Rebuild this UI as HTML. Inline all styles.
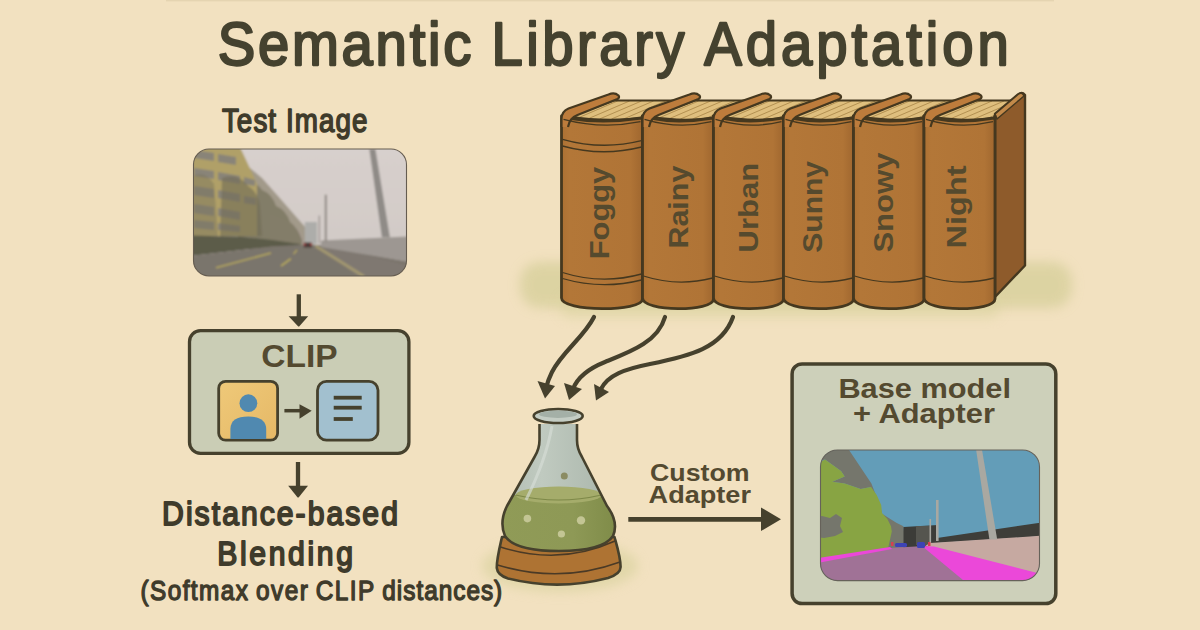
<!DOCTYPE html>
<html><head><meta charset="utf-8">
<style>
html,body{margin:0;padding:0;}
body{width:1200px;height:630px;overflow:hidden;background:#f2e1c0;font-family:"Liberation Sans",sans-serif;}
svg{display:block;}
.bt{font-family:"Liberation Sans",sans-serif;font-weight:bold;fill:#554a2e;}
.t{font-family:"Liberation Sans",sans-serif;font-weight:bold;fill:#413c2a;}
</style></head>
<body>
<svg width="1200" height="630" viewBox="0 0 1200 630">
<defs>
  <filter id="blur8" x="-50%" y="-50%" width="200%" height="200%"><feGaussianBlur stdDeviation="6"/></filter>
  <filter id="blur1" x="-5%" y="-5%" width="110%" height="110%"><feGaussianBlur stdDeviation="0.9"/></filter>
  <linearGradient id="sky" x1="0" y1="0" x2="0" y2="1"><stop offset="0" stop-color="#d8d0cd"/><stop offset="0.7" stop-color="#d2cbc7"/><stop offset="1" stop-color="#c3bcb7"/></linearGradient>
  <linearGradient id="yel" x1="0" y1="0" x2="1" y2="1"><stop offset="0" stop-color="#efc979"/><stop offset="1" stop-color="#e5b866"/></linearGradient>
  <clipPath id="photoclip"><rect x="193.5" y="149" width="213" height="127" rx="15.5"/></clipPath>
  <clipPath id="segclip"><rect x="820.5" y="450" width="219" height="130.6" rx="17"/></clipPath>
  <linearGradient id="spine" x1="0" y1="0" x2="1" y2="0"><stop offset="0" stop-color="#ad7133"/><stop offset="0.1" stop-color="#b37738"/><stop offset="0.85" stop-color="#b07436"/><stop offset="1" stop-color="#a0672f"/></linearGradient>
</defs>
<rect x="0" y="0" width="1200" height="630" fill="#f2e1c0"/>
<rect x="166" y="0" width="888" height="1.4" fill="#e5d4b1"/>

<!-- shadow under books -->
<rect x="520" y="262" width="552" height="46" rx="20" fill="#d4ce96" opacity="0.7" filter="url(#blur8)"/>
<rect x="560" y="296" width="440" height="22" rx="10" fill="#d8d29c" opacity="0.5" filter="url(#blur8)"/>

<!--BOOKS-->
<clipPath id="pg0"><path d="M570.5,116.5 L613.5,100.5 L688.5,100.5 L644.5,118 Q602.0,122 570.5,116.5 Z"/></clipPath>
<path d="M570.5,116.5 L613.5,100.5 L688.5,100.5 L644.5,118 Q602.0,122 570.5,116.5 Z" fill="#dfbf7e"/>
<g clip-path="url(#pg0)" stroke="#ad8a4c" stroke-width="0.9">
<line x1="575.5" y1="119" x2="617.5" y2="101"/>
<line x1="587.5" y1="119" x2="629.5" y2="101"/>
<line x1="599.5" y1="119" x2="641.5" y2="101"/>
<line x1="611.5" y1="119" x2="653.5" y2="101"/>
<line x1="623.5" y1="119" x2="665.5" y2="101"/>
<line x1="635.5" y1="119" x2="677.5" y2="101"/>
</g>
<path d="M570.5,116.5 L613.5,100.5 L688.5,100.5 L644.5,118 Q602.0,122 570.5,116.5 Z" fill="none" stroke="#45381f" stroke-width="2"/>
<clipPath id="pg1"><path d="M651.5,116.5 L694.5,100.5 L759.5,100.5 L715.5,118 Q678.0,122 651.5,116.5 Z"/></clipPath>
<path d="M651.5,116.5 L694.5,100.5 L759.5,100.5 L715.5,118 Q678.0,122 651.5,116.5 Z" fill="#dfbf7e"/>
<g clip-path="url(#pg1)" stroke="#ad8a4c" stroke-width="0.9">
<line x1="656.5" y1="119" x2="698.5" y2="101"/>
<line x1="668.5" y1="119" x2="710.5" y2="101"/>
<line x1="680.5" y1="119" x2="722.5" y2="101"/>
<line x1="692.5" y1="119" x2="734.5" y2="101"/>
<line x1="704.5" y1="119" x2="746.5" y2="101"/>
<line x1="716.5" y1="119" x2="758.5" y2="101"/>
</g>
<path d="M651.5,116.5 L694.5,100.5 L759.5,100.5 L715.5,118 Q678.0,122 651.5,116.5 Z" fill="none" stroke="#45381f" stroke-width="2"/>
<clipPath id="pg2"><path d="M722.5,116.5 L765.5,100.5 L829.5,100.5 L785.5,118 Q748.5,122 722.5,116.5 Z"/></clipPath>
<path d="M722.5,116.5 L765.5,100.5 L829.5,100.5 L785.5,118 Q748.5,122 722.5,116.5 Z" fill="#dfbf7e"/>
<g clip-path="url(#pg2)" stroke="#ad8a4c" stroke-width="0.9">
<line x1="727.5" y1="119" x2="769.5" y2="101"/>
<line x1="739.5" y1="119" x2="781.5" y2="101"/>
<line x1="751.5" y1="119" x2="793.5" y2="101"/>
<line x1="763.5" y1="119" x2="805.5" y2="101"/>
<line x1="775.5" y1="119" x2="817.5" y2="101"/>
<line x1="787.5" y1="119" x2="829.5" y2="101"/>
</g>
<path d="M722.5,116.5 L765.5,100.5 L829.5,100.5 L785.5,118 Q748.5,122 722.5,116.5 Z" fill="none" stroke="#45381f" stroke-width="2"/>
<clipPath id="pg3"><path d="M792.5,116.5 L835.5,100.5 L899.5,100.5 L855.5,118 Q818.5,122 792.5,116.5 Z"/></clipPath>
<path d="M792.5,116.5 L835.5,100.5 L899.5,100.5 L855.5,118 Q818.5,122 792.5,116.5 Z" fill="#dfbf7e"/>
<g clip-path="url(#pg3)" stroke="#ad8a4c" stroke-width="0.9">
<line x1="797.5" y1="119" x2="839.5" y2="101"/>
<line x1="809.5" y1="119" x2="851.5" y2="101"/>
<line x1="821.5" y1="119" x2="863.5" y2="101"/>
<line x1="833.5" y1="119" x2="875.5" y2="101"/>
<line x1="845.5" y1="119" x2="887.5" y2="101"/>
<line x1="857.5" y1="119" x2="899.5" y2="101"/>
</g>
<path d="M792.5,116.5 L835.5,100.5 L899.5,100.5 L855.5,118 Q818.5,122 792.5,116.5 Z" fill="none" stroke="#45381f" stroke-width="2"/>
<clipPath id="pg4"><path d="M862.5,116.5 L905.5,100.5 L970.0,100.5 L926.0,118 Q888.75,122 862.5,116.5 Z"/></clipPath>
<path d="M862.5,116.5 L905.5,100.5 L970.0,100.5 L926.0,118 Q888.75,122 862.5,116.5 Z" fill="#dfbf7e"/>
<g clip-path="url(#pg4)" stroke="#ad8a4c" stroke-width="0.9">
<line x1="867.5" y1="119" x2="909.5" y2="101"/>
<line x1="879.5" y1="119" x2="921.5" y2="101"/>
<line x1="891.5" y1="119" x2="933.5" y2="101"/>
<line x1="903.5" y1="119" x2="945.5" y2="101"/>
<line x1="915.5" y1="119" x2="957.5" y2="101"/>
<line x1="927.5" y1="119" x2="969.5" y2="101"/>
</g>
<path d="M862.5,116.5 L905.5,100.5 L970.0,100.5 L926.0,118 Q888.75,122 862.5,116.5 Z" fill="none" stroke="#45381f" stroke-width="2"/>
<clipPath id="pg5"><path d="M933.0,116.5 L976.0,100.5 L1017.0,100.5 L997.0,118 Q959.5,122 933.0,116.5 Z"/></clipPath>
<path d="M933.0,116.5 L976.0,100.5 L1017.0,100.5 L997.0,118 Q959.5,122 933.0,116.5 Z" fill="#dfbf7e"/>
<g clip-path="url(#pg5)" stroke="#ad8a4c" stroke-width="0.9">
<line x1="938.0" y1="119" x2="980.0" y2="101"/>
<line x1="950.0" y1="119" x2="992.0" y2="101"/>
<line x1="962.0" y1="119" x2="1004.0" y2="101"/>
<line x1="974.0" y1="119" x2="1016.0" y2="101"/>
<line x1="986.0" y1="119" x2="1028.0" y2="101"/>
<line x1="998.0" y1="119" x2="1040.0" y2="101"/>
</g>
<path d="M933.0,116.5 L976.0,100.5 L1017.0,100.5 L997.0,118 Q959.5,122 933.0,116.5 Z" fill="none" stroke="#45381f" stroke-width="2"/>
<path d="M995,114 L1018,94.5 Q1022,91.5 1025,95 L1025,265.5 L995,297 Z" fill="#8e5b2b" stroke="#45381f" stroke-width="2.4" stroke-linejoin="round"/>
<path d="M995,114 L1018,94.5 Q1022,91.5 1024,96 L997,119 Z" fill="#c38a4a" stroke="#45381f" stroke-width="1.5" stroke-linejoin="round"/>
<path d="M561.5,116 L567.5,118 Q602.0,124 641.5,118 L642.5,116 L642.5,299 C642.5,312 561.5,312 561.5,298 Z" fill="url(#spine)" stroke="#45381f" stroke-width="2.8" stroke-linejoin="round"/>
<path d="M561.5,127 L561.5,119 Q561.5,111.5 568.5,108.5 L608.5,94.5 Q614.5,91.8 618.5,95.5 Q620.0,97.5 617.5,99 L577.5,115 Q569.5,118 568.0,127 Z" fill="#bd7c3c"/>
<path d="M561.5,127 L561.5,119 Q561.5,111.5 568.5,108.5 L608.5,94.5 Q614.5,91.8 618.5,95.5 Q620.0,97.5 617.5,99 L577.5,115 Q569.5,118 568.0,127" fill="none" stroke="#45381f" stroke-width="2.2" stroke-linejoin="round"/>
<path d="M563.5,119.3 Q602.0,129.5 640.5,121.7" fill="none" stroke="#45381f" stroke-width="1.3"/>
<path d="M562.5,278.5 Q602.0,290 641.5,280" fill="none" stroke="#45381f" stroke-width="1.3"/>
<path d="M562.5,139.3 Q602.0,150.5 641.5,140.7" fill="none" stroke="#45381f" stroke-width="1.3"/>
<path d="M562.5,146 Q602.0,157 641.5,147" fill="none" stroke="#45381f" stroke-width="1.3"/>
<path d="M562.5,272.5 Q602.0,285 641.5,274" fill="none" stroke="#45381f" stroke-width="1.3"/>
<text class="bt" transform="translate(608.5999999999999,259.30000000000007) rotate(-90)" font-size="28.5" textLength="92.60" lengthAdjust="spacingAndGlyphs">Foggy</text>
<path d="M642.5,116 L648.5,118 Q678.0,124 712.5,118 L713.5,116 L713.5,299 C713.5,312 642.5,312 642.5,298 Z" fill="url(#spine)" stroke="#45381f" stroke-width="2.8" stroke-linejoin="round"/>
<path d="M642.5,127 L642.5,119 Q642.5,111.5 649.5,108.5 L689.5,94.5 Q695.5,91.8 699.5,95.5 Q701.0,97.5 698.5,99 L658.5,115 Q650.5,118 649.0,127 Z" fill="#bd7c3c"/>
<path d="M642.5,127 L642.5,119 Q642.5,111.5 649.5,108.5 L689.5,94.5 Q695.5,91.8 699.5,95.5 Q701.0,97.5 698.5,99 L658.5,115 Q650.5,118 649.0,127" fill="none" stroke="#45381f" stroke-width="2.2" stroke-linejoin="round"/>
<path d="M644.5,119.3 Q678.0,129.5 711.5,121.7" fill="none" stroke="#45381f" stroke-width="1.3"/>
<path d="M643.5,276 Q678.0,287 712.5,278" fill="none" stroke="#45381f" stroke-width="1.3"/>
<text class="bt" transform="translate(687.8499999999999,248.59999999999997) rotate(-90)" font-size="28.5" textLength="83.00" lengthAdjust="spacingAndGlyphs">Rainy</text>
<path d="M713.5,116 L719.5,118 Q748.5,124 782.5,118 L783.5,116 L783.5,299 C783.5,312 713.5,312 713.5,298 Z" fill="url(#spine)" stroke="#45381f" stroke-width="2.8" stroke-linejoin="round"/>
<path d="M713.5,127 L713.5,119 Q713.5,111.5 720.5,108.5 L760.5,94.5 Q766.5,91.8 770.5,95.5 Q772.0,97.5 769.5,99 L729.5,115 Q721.5,118 720.0,127 Z" fill="#bd7c3c"/>
<path d="M713.5,127 L713.5,119 Q713.5,111.5 720.5,108.5 L760.5,94.5 Q766.5,91.8 770.5,95.5 Q772.0,97.5 769.5,99 L729.5,115 Q721.5,118 720.0,127" fill="none" stroke="#45381f" stroke-width="2.2" stroke-linejoin="round"/>
<path d="M715.5,119.3 Q748.5,129.5 781.5,121.7" fill="none" stroke="#45381f" stroke-width="1.3"/>
<path d="M714.5,276 Q748.5,287 782.5,278" fill="none" stroke="#45381f" stroke-width="1.3"/>
<text class="bt" transform="translate(758.2999999999997,252.40000000000003) rotate(-90)" font-size="28.5" textLength="89.70" lengthAdjust="spacingAndGlyphs">Urban</text>
<path d="M783.5,116 L789.5,118 Q818.5,124 852.5,118 L853.5,116 L853.5,299 C853.5,312 783.5,312 783.5,298 Z" fill="url(#spine)" stroke="#45381f" stroke-width="2.8" stroke-linejoin="round"/>
<path d="M783.5,127 L783.5,119 Q783.5,111.5 790.5,108.5 L830.5,94.5 Q836.5,91.8 840.5,95.5 Q842.0,97.5 839.5,99 L799.5,115 Q791.5,118 790.0,127 Z" fill="#bd7c3c"/>
<path d="M783.5,127 L783.5,119 Q783.5,111.5 790.5,108.5 L830.5,94.5 Q836.5,91.8 840.5,95.5 Q842.0,97.5 839.5,99 L799.5,115 Q791.5,118 790.0,127" fill="none" stroke="#45381f" stroke-width="2.2" stroke-linejoin="round"/>
<path d="M785.5,119.3 Q818.5,129.5 851.5,121.7" fill="none" stroke="#45381f" stroke-width="1.3"/>
<path d="M784.5,276 Q818.5,287 852.5,278" fill="none" stroke="#45381f" stroke-width="1.3"/>
<text class="bt" transform="translate(821.9500000000002,252.80000000000007) rotate(-90)" font-size="28.5" textLength="91.90" lengthAdjust="spacingAndGlyphs">Sunny</text>
<path d="M853.5,116 L859.5,118 Q888.75,124 923.0,118 L924.0,116 L924.0,299 C924.0,312 853.5,312 853.5,298 Z" fill="url(#spine)" stroke="#45381f" stroke-width="2.8" stroke-linejoin="round"/>
<path d="M853.5,127 L853.5,119 Q853.5,111.5 860.5,108.5 L900.5,94.5 Q906.5,91.8 910.5,95.5 Q912.0,97.5 909.5,99 L869.5,115 Q861.5,118 860.0,127 Z" fill="#bd7c3c"/>
<path d="M853.5,127 L853.5,119 Q853.5,111.5 860.5,108.5 L900.5,94.5 Q906.5,91.8 910.5,95.5 Q912.0,97.5 909.5,99 L869.5,115 Q861.5,118 860.0,127" fill="none" stroke="#45381f" stroke-width="2.2" stroke-linejoin="round"/>
<path d="M855.5,119.3 Q888.75,129.5 922.0,121.7" fill="none" stroke="#45381f" stroke-width="1.3"/>
<path d="M854.5,276 Q888.75,287 923.0,278" fill="none" stroke="#45381f" stroke-width="1.3"/>
<text class="bt" transform="translate(892.9499999999996,252.59999999999997) rotate(-90)" font-size="28.5" textLength="100.10" lengthAdjust="spacingAndGlyphs">Snowy</text>
<path d="M924.0,116 L930.0,118 Q959.5,124 994.0,118 L995.0,116 L995.0,299 C995.0,312 924.0,312 924.0,298 Z" fill="url(#spine)" stroke="#45381f" stroke-width="2.8" stroke-linejoin="round"/>
<path d="M924.0,127 L924.0,119 Q924.0,111.5 931.0,108.5 L971.0,94.5 Q977.0,91.8 981.0,95.5 Q982.5,97.5 980.0,99 L940.0,115 Q932.0,118 930.5,127 Z" fill="#bd7c3c"/>
<path d="M924.0,127 L924.0,119 Q924.0,111.5 931.0,108.5 L971.0,94.5 Q977.0,91.8 981.0,95.5 Q982.5,97.5 980.0,99 L940.0,115 Q932.0,118 930.5,127" fill="none" stroke="#45381f" stroke-width="2.2" stroke-linejoin="round"/>
<path d="M926.0,119.3 Q959.5,129.5 993.0,121.7" fill="none" stroke="#45381f" stroke-width="1.3"/>
<path d="M925.0,276 Q959.5,287 994.0,278" fill="none" stroke="#45381f" stroke-width="1.3"/>
<text class="bt" transform="translate(966.3499999999999,248.40000000000003) rotate(-90)" font-size="28.5" textLength="83.00" lengthAdjust="spacingAndGlyphs">Night</text>
<!--/BOOKS-->


<!-- Test Image -->

<!-- PHOTO -->
<g clip-path="url(#photoclip)">
  <g filter="url(#blur1)">
  <rect x="190" y="145" width="220" height="135" fill="url(#sky)"/>
  <!-- far buildings (hazy) -->
  <polygon points="250,168 262,178 278,196 292,212 306,228 314,240 314,247 250,249" fill="#a29a8a"/>
  <polygon points="270,214 290,222 300,232 306,246 270,248" fill="#a99b93" opacity="0.8"/>
  <polygon points="304.8,222 317,222 317,244 304.8,244" fill="#adadaa"/>
  <!-- trees on far side -->
  <path d="M238,182 Q252,176 262,190 Q272,194 276,206 Q286,210 290,222 Q298,228 302,240 L302,247 L238,249 Z" fill="#7d7861" opacity="0.85"/>
  <!-- yellow building -->
  <polygon points="190,145 239,145 254,177 257,184 257,236 190,236" fill="#b0a068"/>
  <g fill="#85827a" opacity="0.9">
    <polygon points="194,150 214,153 214,161 194,158"/><polygon points="218,154 236,157 236,165 218,162"/>
    <polygon points="194,168 214,171 214,179 194,176"/><polygon points="218,172 240,176 240,184 218,180"/><polygon points="244,177 255,180 255,186 244,184"/>
    <polygon points="194,186 214,189 214,198 194,195"/><polygon points="218,190 240,194 240,202 218,198"/><polygon points="244,196 256,198 256,205 244,203"/>
    <polygon points="194,204 214,207 214,216 194,213"/><polygon points="218,208 240,212 240,220 218,216"/>
    <polygon points="194,220 214,222 214,230 194,228"/><polygon points="218,223 240,226 240,232 218,230"/>
  </g>
  <!-- trees in front of building -->
  <path d="M222,178 Q238,172 248,186 Q258,192 260,206 L262,236 L220,238 Z" fill="#6f6a55" opacity="0.6"/>
  <path d="M193,176 Q205,170 214,184 L218,236 L193,236 Z" fill="#77715a" opacity="0.45"/>
  <!-- hedge -->
  <polygon points="190,235.5 240,236.7 272,240 300,244 298,247 272,246.5 190,256" fill="#5b5b49"/>
  <!-- road -->
  <polygon points="190,256 272,246.5 298,245 318,245 410,262 410,280 190,280" fill="#7a746c"/>
  <polygon points="318,245 330,246 410,266 410,280 362,280" fill="#7f7871"/>
  <!-- right wall -->
  <polygon points="321,240.5 407,236.5 410,236.5 410,262 321,247" fill="#9d9792"/>
  <!-- far poles -->
  <rect x="324.8" y="194.7" width="2" height="47" fill="#8e8882"/>
  <rect x="318.7" y="215.6" width="1.3" height="28" fill="#958f8a"/>
  <!-- big pole -->
  <polygon points="369.3,149 375.4,149 389.9,237.3 381.9,237.3" fill="#8f8b87"/>
  <!-- car -->
  <rect x="303.7" y="242.4" width="8.3" height="5.1" rx="1" fill="#4a3a37"/>
  <rect x="303.7" y="243.4" width="2" height="2" fill="#b04040"/><rect x="310" y="243.4" width="2" height="2" fill="#b04040"/>
  <!-- lane markings -->
  <line x1="216" y1="267.8" x2="271" y2="253" stroke="#b3a65c" stroke-width="1.6"/>
  <line x1="281" y1="266" x2="290.8" y2="258.7" stroke="#b3a65c" stroke-width="1.8"/>
  <line x1="293.5" y1="254" x2="297" y2="250" stroke="#b3a65c" stroke-width="1.4"/>
  <path d="M315.6,246 L364,276.4" stroke="#a29770" stroke-width="3"/>
  </g>
</g>
<rect x="193.5" y="149" width="213" height="127" rx="15.5" fill="none" stroke="#655c50" stroke-width="1.1"/>

<!-- Arrow test->clip -->
<g stroke="#46412d" fill="#46412d">
  <line x1="298.8" y1="294.3" x2="298.8" y2="318" stroke-width="4.3"/>
  <path d="M288.6,316.3 L308.2,316.3 L299.6,326 Q298.7,327 297.8,326 Z" stroke="none"/>
  <line x1="298" y1="462" x2="298" y2="488" stroke-width="4.3"/>
  <path d="M288.2,485.8 L308,485.8 L299,497 Q298.1,498 297.2,497 Z" stroke="none"/>
</g>

<!-- CLIP BOX -->
<rect x="189.5" y="330.7" width="219.4" height="122.6" rx="11" fill="#cacdb5" stroke="#46412d" stroke-width="3.3"/>
<rect x="218.7" y="381.3" width="58.9" height="58.9" rx="7" fill="url(#yel)" stroke="#46412d" stroke-width="2.8"/>
<circle cx="248.4" cy="403.2" r="8.9" fill="#5089b0"/>
<path d="M230.4,439 L230.4,429 Q230.6,416.6 248.3,416.6 Q266,416.6 266.2,429 L266.2,439 Z" fill="#5089b0"/>
<line x1="284.4" y1="410.7" x2="302" y2="410.7" stroke="#46412d" stroke-width="3.5"/>
<polygon points="299.5,404.3 311.7,410.7 299.5,418.8" fill="#46412d"/>
<rect x="317.5" y="381.3" width="60.5" height="58.9" rx="9" fill="#a2c0cf" stroke="#46412d" stroke-width="2.8"/>
<g stroke="#46412d" stroke-width="3.8"><line x1="333.7" y1="397.7" x2="361.7" y2="397.7"/><line x1="333.7" y1="407.7" x2="361.7" y2="407.7"/><line x1="333.7" y1="419" x2="352.8" y2="419"/></g>

<!-- Distance-based blending -->


<!-- CURVED ARROWS -->
<g fill="none" stroke="#46412d" stroke-width="4.2" stroke-linecap="round">
  <path d="M594,317 C584,337 562,352 552,372 C549,378 547,384 546,388"/>
  <path d="M665,317 C658,342 630,352 605,362 C590,368 578,376 573,389"/>
  <path d="M733,317 C722,348 690,356 650,364 C625,369 608,375 601,389"/>
</g>
<g fill="#46412d">
  <polygon points="537.5,381 555,386 545,398.5"/>
  <polygon points="564,383 582,389 569,400"/>
  <polygon points="594,384 609,392 596,400.5"/>
</g>

<!-- FLASK -->
<ellipse cx="560" cy="566" rx="78" ry="26" fill="#d6d09a" opacity="0.6" filter="url(#blur8)"/>
<g id="flask">
  <defs>
    <linearGradient id="liq" x1="0" y1="0" x2="1" y2="0"><stop offset="0" stop-color="#909b57"/><stop offset="0.6" stop-color="#8e9956"/><stop offset="1" stop-color="#7c8946"/></linearGradient>
    <linearGradient id="glass" x1="0" y1="0" x2="1" y2="0"><stop offset="0" stop-color="#b2bdb2"/><stop offset="0.35" stop-color="#c0cac0"/><stop offset="1" stop-color="#a9b5aa"/></linearGradient>
    <clipPath id="flaskclip"><path d="M539.5,424 L539.5,440 Q539.5,449 534.5,457 L507,506 Q499,522 505,536 Q515,551 559,551 Q603,551 613,536 Q619,522 607,506 L582,457 Q577,449 577,440 L577,424 Z"/></clipPath>
  </defs>
  <!-- base -->
  <path d="M502,537 C499.5,548 496.5,560 496.8,568 Q497.5,575 508,578.5 Q558,591 608,578 Q620.5,574 620.6,567 C620.5,557 617,546 614.5,537 Z" fill="#ae7333" stroke="#46412d" stroke-width="2.6" stroke-linejoin="round"/>
  <path d="M500.5,547 Q560,566 615,541" fill="none" stroke="#4a3a26" stroke-width="1.6"/>
  <path d="M497.5,565 Q560,584 620,562" fill="none" stroke="#4a3a26" stroke-width="1.6"/>
  <!-- glass body -->
  <path d="M539.5,424 L539.5,440 Q539.5,449 534.5,457 L507,506 Q499,522 505,536 Q515,551 559,551 Q603,551 613,536 Q619,522 607,506 L582,457 Q577,449 577,440 L577,424 Z" fill="url(#glass)"/>
  <g clip-path="url(#flaskclip)">
    <rect x="495" y="495" width="130" height="60" fill="url(#liq)"/>
    <ellipse cx="558.7" cy="495" rx="43" ry="8.5" fill="#a5ac6b"/>
    <path d="M515.5,495 Q558.7,505 601.5,495" fill="none" stroke="#7d8848" stroke-width="1.2"/>
    <path d="M552,426 Q546,460 526,500" fill="none" stroke="#d9e0d8" stroke-width="3" opacity="0.6"/>
  </g>
  <path d="M539.5,424 L539.5,440 Q539.5,449 534.5,457 L507,506 Q499,522 505,536 Q515,551 559,551 Q603,551 613,536 Q619,522 607,506 L582,457 Q577,449 577,440 L577,424" fill="none" stroke="#46412d" stroke-width="2.6" stroke-linejoin="round"/>
  <circle cx="564.3" cy="476" r="3.5" fill="#8b8c63"/>
  <circle cx="527.4" cy="518.6" r="3.8" fill="#c3c594"/>
  <circle cx="581" cy="520.4" r="4.2" fill="#c3c594"/>
  <circle cx="561.4" cy="534" r="3.6" fill="#c3c594"/>
  <!-- rim -->
  <ellipse cx="558.2" cy="416" rx="24.5" ry="7" fill="#c4cdc4" stroke="#46412d" stroke-width="2.6"/>
  <ellipse cx="558" cy="414.3" rx="19" ry="3.6" fill="#a4b0a7"/>
</g>

<!-- Custom adapter -->
<line x1="628.3" y1="519.3" x2="766" y2="519.3" stroke="#46412d" stroke-width="4.8"/>
<polygon points="761,507.5 781,519.3 761,531" fill="#46412d"/>

<!-- RIGHT BOX -->
<rect x="792.1" y="363.9" width="263.7" height="239.7" rx="10" fill="#cdd0ba" stroke="#46412d" stroke-width="3.5"/>
<g clip-path="url(#segclip)">
  <rect x="815" y="445" width="230" height="140" fill="#639db8"/>
  <!-- gray building top-left -->
  <polygon points="815,445 849,445 849,450 871.4,483.6 880.3,506.7 882,513.8 896.3,522.7 903.4,526.3 906,549 885,549 871,487 860.7,489 844.7,483.6 832.2,481.8 844.7,476.5 841,471 825,459.6 815,462" fill="#75766c"/>
  <!-- vegetation -->
  <path d="M815,462 L820,462 L825,459.6 L841,471 L844.7,476.5 L832.2,481.8 L844.7,483.6 L860.7,489 L871,487 L876.7,495 L881.2,505 L882,513 L887.4,519 L891,526.3 L891.8,531.6 L888.3,547.6 L815,560 Z" fill="#88a443"/>
  <path d="M815,517 L822,516 L830,518 L836,514 L842,518 L840,526 L843,532 L835,536 L824,538 L815,537 Z" fill="#75766c"/>
  <!-- dark wall center -->
  <polygon points="903.5,527 938,525 938,549 903.5,549" fill="#3c3c38"/>
  <polygon points="916,526 930,526 930,545 916,545" fill="#55554f"/>
  <!-- dark band right -->
  <polygon points="937,538 1045,522 1045,536 937,543" fill="#3e3e39"/>
  <!-- pink -->
  <polygon points="930,543 1045,535.5 1045,585 1040,585 1040,574 925,546" fill="#c6a9a1"/>
  <!-- road -->
  <polygon points="815,563 890,548 924,546 969,585 815,585" fill="#a07296"/>
  <!-- magenta -->
  <polygon points="815,558.5 890,547 892,549 815,563.5" fill="#eb48d9"/>
  <polygon points="922,546 934,546.5 1045,575 1045,585 969,585" fill="#eb48d9"/>
  <!-- poles -->
  <polygon points="975.4,445 981.2,445 997.2,539.5 989.4,539.5" fill="#a9a8a1"/>
  <rect x="936" y="500" width="2.6" height="41" fill="#a9a8a1"/>
  <rect x="929.5" y="519" width="1.6" height="24" fill="#a9a8a1"/>
  <!-- cars -->
  <rect x="895" y="543" width="12" height="4" rx="1.5" fill="#3d43b5"/>
  <rect x="917" y="542" width="8" height="6" rx="1.5" fill="#3d43b5"/>
  <rect x="891" y="542" width="2.5" height="4" fill="#d64050"/>
  <rect x="928" y="542" width="2.5" height="4" fill="#d64050"/>
</g>
<rect x="820.5" y="450" width="219" height="130.6" rx="17" fill="none" stroke="#66625a" stroke-width="1.1"/>

<!--TEXTS-->
<text transform="translate(217.70,65.30) scale(0.93,1)" font-family="Liberation Sans, sans-serif" font-weight="normal" font-size="60.5" fill="#45422f" stroke="#45422f" stroke-width="2.3" stroke-linejoin="round" textLength="272.80" lengthAdjust="spacing">Semantic</text>
<text transform="translate(491.50,65.30) scale(0.93,1)" font-family="Liberation Sans, sans-serif" font-weight="normal" font-size="60.5" fill="#45422f" stroke="#45422f" stroke-width="2.3" stroke-linejoin="round" textLength="207.53" lengthAdjust="spacing">Library</text>
<text transform="translate(704.25,65.30) scale(0.93,1)" font-family="Liberation Sans, sans-serif" font-weight="normal" font-size="60.5" fill="#45422f" stroke="#45422f" stroke-width="2.3" stroke-linejoin="round" textLength="327.42" lengthAdjust="spacing">Adaptation</text>
<text transform="translate(140.50,600.30) scale(0.87,1)" font-family="Liberation Sans, sans-serif" font-weight="normal" font-size="28" fill="#3f3b2b" stroke="#3f3b2b" stroke-width="1.4" stroke-linejoin="round" textLength="123.45" lengthAdjust="spacing">(Softmax</text>
<text transform="translate(255.90,600.30) scale(0.87,1)" font-family="Liberation Sans, sans-serif" font-weight="normal" font-size="28" fill="#3f3b2b" stroke="#3f3b2b" stroke-width="1.4" stroke-linejoin="round" textLength="59.77" lengthAdjust="spacing">over</text>
<text transform="translate(315.70,600.30) scale(0.87,1)" font-family="Liberation Sans, sans-serif" font-weight="normal" font-size="28" fill="#3f3b2b" stroke="#3f3b2b" stroke-width="1.4" stroke-linejoin="round" textLength="67.24" lengthAdjust="spacing">CLIP</text>
<text transform="translate(382.30,600.30) scale(0.87,1)" font-family="Liberation Sans, sans-serif" font-weight="normal" font-size="28" fill="#3f3b2b" stroke="#3f3b2b" stroke-width="1.4" stroke-linejoin="round" textLength="137.82" lengthAdjust="spacing">distances)</text>
<text transform="translate(221.90,132.00) scale(0.83,1)" font-family="Liberation Sans, sans-serif" font-weight="normal" font-size="33.5" fill="#3f3b2b" stroke="#3f3b2b" stroke-width="1.6" stroke-linejoin="round" textLength="175.42" lengthAdjust="spacing">Test Image</text>
<text x="261.30" y="367.00" font-family="Liberation Sans, sans-serif" font-weight="bold" font-size="31" fill="#544a30" textLength="76.30" lengthAdjust="spacingAndGlyphs">CLIP</text>
<text transform="translate(162.10,525.40) scale(0.9,1)" font-family="Liberation Sans, sans-serif" font-weight="normal" font-size="33.5" fill="#3f3b2b" stroke="#3f3b2b" stroke-width="1.8" stroke-linejoin="round" textLength="262.00" lengthAdjust="spacing">Distance-based</text>
<text transform="translate(217.20,565.00) scale(0.9,1)" font-family="Liberation Sans, sans-serif" font-weight="normal" font-size="33.5" fill="#3f3b2b" stroke="#3f3b2b" stroke-width="1.8" stroke-linejoin="round" textLength="150.89" lengthAdjust="spacing">Blending</text>
<text x="650.00" y="480.70" font-family="Liberation Sans, sans-serif" font-weight="bold" font-size="23" fill="#544a30" textLength="99.60" lengthAdjust="spacingAndGlyphs">Custom</text>
<text x="648.60" y="503.20" font-family="Liberation Sans, sans-serif" font-weight="bold" font-size="23" fill="#544a30" textLength="102.40" lengthAdjust="spacingAndGlyphs">Adapter</text>
<text x="838.40" y="398.30" font-family="Liberation Sans, sans-serif" font-weight="bold" font-size="28.5" fill="#544a30" textLength="172.60" lengthAdjust="spacingAndGlyphs">Base model</text>
<text x="853.00" y="423.00" font-family="Liberation Sans, sans-serif" font-weight="bold" font-size="28.5" fill="#544a30" textLength="142.00" lengthAdjust="spacingAndGlyphs">+ Adapter</text>
<!--/TEXTS-->
</svg>
</body></html>
